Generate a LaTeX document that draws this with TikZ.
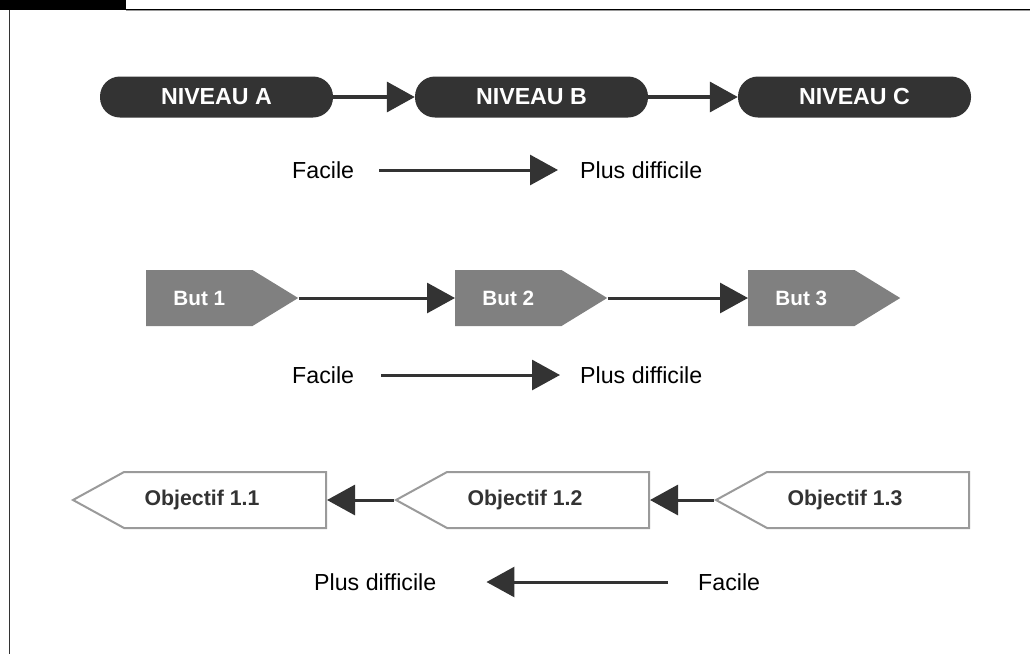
\documentclass[tikz,border=0pt]{standalone}
\usepackage{fontspec}
\setmainfont{Liberation Sans}
\usetikzlibrary{arrows.meta,shapes.symbols}
\definecolor{inkgray}{HTML}{333333}
\definecolor{butgray}{HTML}{808080}
\definecolor{objgray}{HTML}{9A9A9A}

\begin{document}
\begin{tikzpicture}[x=1pt,y=-1pt,
    niveau/.style={fill=inkgray,text=white,rounded corners=20pt,minimum width=233pt,minimum height=41pt,font=\fontsize{23.2}{27}\selectfont\bfseries},
    but/.style={signal,signal to=east,signal pointer angle=63,fill=butgray,text=white,minimum width=152pt,minimum height=56pt,inner sep=0pt,font=\fontsize{20.7}{25}\selectfont\bfseries},
    objectif/.style={signal,signal to=west,signal pointer angle=57.5,draw=objgray,line width=2pt,fill=white,text=inkgray,minimum width=253pt,minimum height=56pt,inner sep=0pt,font=\fontsize{21.3}{25}\selectfont\bfseries,execute at begin node={\hspace*{-46pt}}},
    word/.style={inner sep=0pt,font=\fontsize{23.2}{27}\selectfont},
    link/.style={draw=inkgray,line width=3pt,-{Triangle[length=28pt,width=30pt]}}]
  \useasboundingbox (0,0) rectangle (1030,654);
  % frame
  \fill[black] (0,0) rectangle (126,9.5);
  \draw[black,line width=1.2pt] (126,9.3) -- (1030,9.3);
  \draw[objgray,line width=1pt] (126,10.7) -- (1030,10.7);
  \draw[inkgray,line width=1.5pt] (9.5,10) -- (9.5,654);
  % niveaux
  \node[niveau] (na) at (216.5,97) {NIVEAU A};
  \node[niveau] (nb) at (531.5,97) {NIVEAU B};
  \node[niveau] (nc) at (854.5,97) {NIVEAU C};
  \draw[link,line width=3.5pt] (na) -- (nb); % A -> B
  \draw[link,line width=3.5pt] (nb) -- (nc); % B -> C
  \node[word,anchor=west] (f1) at (292,170) {Facile};
  \node[word,anchor=west] (d1) at (580,170) {Plus difficile};
  \draw[link] ([xshift=25pt]f1.east) -- ([xshift=-22pt]d1.west);
  % buts
  \node[but,anchor=west] (b1) at (146,298) {But 1};
  \node[but,anchor=west] (b2) at (455,298) {But 2};
  \node[but,anchor=west] (b3) at (748,298) {But 3};
  \draw[link] (b1.east) -- (b2.west); % 1 -> 2
  \draw[link] (b2.east) -- (b3.west); % 2 -> 3
  \node[word,anchor=west] (f2) at (292,375) {Facile};
  \node[word,anchor=west] (d2) at (580,375) {Plus difficile};
  \draw[link] ([xshift=27pt]f2.east) -- ([xshift=-20pt]d2.west);
  % objectifs
  \node[objectif,anchor=east] (o1) at (327,500) {Objectif 1.1};
  \node[objectif,anchor=east] (o2) at (650,500) {Objectif 1.2};
  \node[objectif,anchor=east] (o3) at (970,500) {Objectif 1.3};
  \draw[link] (o2.west) -- (o1.east); % 1.2 -> 1.1
  \draw[link] (o3.west) -- (o2.east); % 1.3 -> 1.2
  \node[word,anchor=west] (d3) at (314,582) {Plus difficile};
  \node[word,anchor=west] (f3) at (698,582) {Facile};
  \draw[link] ([xshift=-30pt]f3.west) -- ([xshift=50pt]d3.east);
\end{tikzpicture}
\end{document}
